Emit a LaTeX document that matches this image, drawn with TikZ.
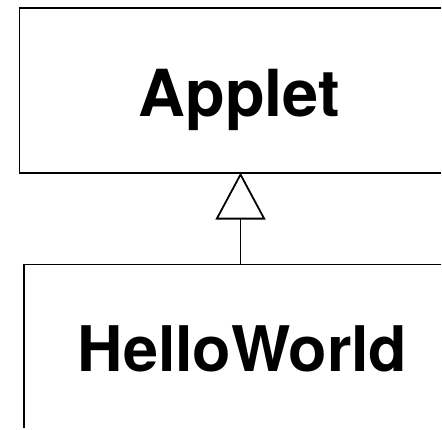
\documentclass[tikz,border=0pt]{standalone}
\usepackage{fontspec}
\setmainfont{TeX Gyre Heros}
\usetikzlibrary{arrows.meta}
\tikzset{
  outline/.style={line width=1.8pt},
  classname/.style={font=\bfseries\fontsize{65}{70}\selectfont, anchor=base, inner sep=0pt},
  inherit/.style={line width=1.8pt, -{Triangle[open, length=47pt, width=50pt]}}
}
\begin{document}
\begin{tikzpicture}[x=1pt, y=1pt]
  \fill[white] (0,0) rectangle (442,429);
  % corners of the two class boxes (both run off the page)
  \coordinate (applettl) at (19.5,421);
  \coordinate (appletbl) at (19.5,256);
  \coordinate (hellotl) at (24,164);
  \coordinate (hellobl) at (24,0);
  \coordinate (rightedge) at (442,0);
  \coordinate (stem) at (241,0);
  % superclass box
  \draw[outline] (applettl -| rightedge) -- (applettl) -- (appletbl) -- (appletbl -| rightedge);
  \node[classname] (applet) at (240,312) {Applet};
  % subclass box
  \draw[outline] (hellotl -| rightedge) -- (hellotl) -- (hellobl);
  \node[classname, font=\bfseries\fontsize{63}{68}\selectfont] (hello) at (243,57) {HelloWorld};
  % generalization arrow
  \draw[inherit] (hellotl -| stem) -- (appletbl -| stem);
\end{tikzpicture}
\end{document}
